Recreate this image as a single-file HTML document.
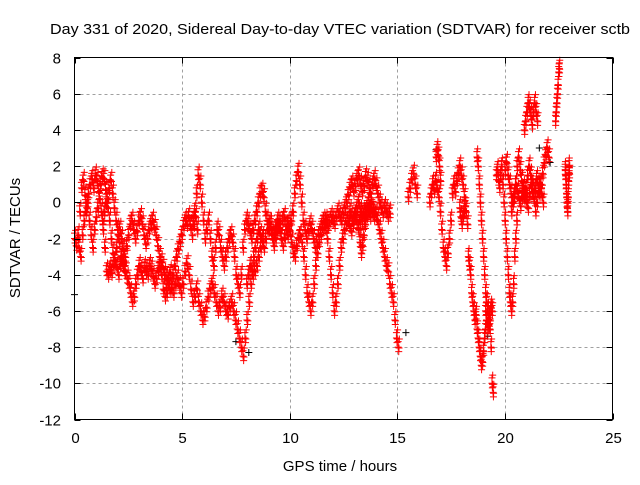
<!DOCTYPE html>
<html><head><meta charset="utf-8"><style>
body{margin:0;background:#fff}
svg text{font-family:"Liberation Sans",sans-serif;font-size:15px;fill:#000}
</style></head><body>
<svg id="chart" width="640" height="480" viewBox="0 0 640 480" xmlns="http://www.w3.org/2000/svg">
<rect width="640" height="480" fill="#fff"/>
<text x="340" y="34" text-anchor="middle" textLength="580" lengthAdjust="spacingAndGlyphs">Day 331 of 2020, Sidereal Day-to-day VTEC variation (SDTVAR) for receiver sctb</text>
<g id="grid"></g>
<g id="marks"></g>
<rect x="74.5" y="57.5" width="538" height="362" fill="none" stroke="#000" stroke-width="1"/>
<g id="ticks"></g>
<text x="340" y="471" text-anchor="middle">GPS time / hours</text>
<text x="20" y="238" text-anchor="middle" transform="rotate(-90 20 238)">SDTVAR / TECUs</text>
</svg>
<script>
const xTicks=[0,5,10,15,20,25];
const yTicks=[8,6,4,2,0,-2,-4,-6,-8,-10,-12];
// tracks: start time, step (hours), values (TECU)
const trackStarts=[0,0.2,1.3,4.5,5.5,8.0,12.0,12.8,15.5,16.5,16.8,18.3,18.7,19.1,19.6,20.0,20.3,20.9,22.35,22.8,13.2,17.9];
const trackSteps=[0.08,0.08,0.08,0.09,0.08,0.08,0.08,0.08,0.08,0.07,0.05,0.05,0.05,0.05,0.05,0.07,0.07,0.06,0.03,0.02,0.06,0.05];
const trackValues=[
[-2,-2.4,-1.8,-0.5,0.8,1.2,0.4,-0.3,0.5,1.0,1.3,0.8,1.5,1.2,0.6,1.0,1.4,1.3,0.7,0.2,0.8,1.2,0.5,-0.3,-1.0,-1.5,-2.2,-3.0,-3.5,-3.8],
[-2.5,-3,-1.8,-1,-0.5,0,-1,-1.8,-2.5,-1.5,-0.8,-0.3,0.2,-0.5,-1.5,-2.5,-3.8,-4,-3.7,-3.9,-3.5,-3.2,-3.6,-4,-3.4,-3.0,-3.3,-3.8,-4.2,-4.5,-5,-5.5,-5.2,-4.5,-4,-3.5,-3.8,-4.2,-3.6,-3.8,-4.0,-3.5,-3.7,-4.1,-4.5,-4.2,-3.8,-3.6,-4.0,-4.8,-5.2,-5.0,-4.3,-3.9],
[-1,-0.5,0,-0.3,-1,-2,-2.8,-3.2,-2.5,-1.8,-1.5,-2,-2.6,-3,-2.4,-1.8,-1.2,-1,-1.5,-2,-1.6,-1.0,-0.8,-1.2,-1.8,-2.3,-2,-1.5,-1.2,-1.0,-1.4,-1.8,-2.4,-3,-3.3,-3.6,-4,-4.2,-4.5,-4.8,-4.5,-4.0,-3.5,-3.0,-2.6,-2.2,-1.8,-1.3,-1.0,-1.2,-0.8,-1.3,-1.8,-1.2,-0.8,-1.5],
[-4.8,-5.0,-4.5,-4.2,-4.6,-5.0,-4.5,-3.8,-3.4,-4.0,-4.8,-5.5,-5.2,-4.8,-5.5,-6,-6.5,-6.3,-5.8,-5.2,-4.8,-4.5,-5.0,-5.5,-6.0,-5.8,-5.2,-5.5,-6.0,-6.2,-5.8,-5.5,-6.0,-6.5,-7.0,-7.5,-8.0,-8.5,-7.5,-6.5,-5.5,-4.5,-4.0,-3.8,-3.5,-3.0,-2.5,-2.0],
[-1,-0.5,0.5,1.5,1.0,0,-1,-2,-1.5,-1.0,-2.0,-3,-3.5,-2.5,-1.5,-1.8,-2.5,-3,-3.5,-3.0,-2.5,-2.0,-1.8,-2.2,-3,-4,-4.5,-5,-4,-2.5,-1.5,-1.0,-1.2,-1.6,-2.0,-1.5,-1.0,-0.5,0.0,0.5,0.6,0.3,-0.5,-1.0,-1.5,-1.2,-1.8,-2.4,-2.0,-1.6,-1.2,-1.5,-1.0,-0.8,-1.3,-1.8,-1.5,-1.0,-0.5,0.5,1.2,1.7,1.0,0,-1,-1.5,-2,-1.6,-1.2,-1.5,-2.0,-2.5,-2.2,-1.8,-1.5,-1.2,-1.0,-1.4,-2,-3,-4,-5,-6,-5.5,-4.5,-3.5,-2.5,-2.0,-1.5,-1.2,-1.0,-1.3,-1.6,-1.2,-0.8,-1.0,-1.4,-1.0,-0.8,-0.6,-1.0,-0.7,-0.5,-0.8,-0.4,-0.6],
[-4.5,-4,-3.5,-3.8,-3,-2.5,-2,-1.5,-1.8,-2.2,-2.5,-2.0,-1.5,-1.2,-1.5,-2.0,-1.8,-1.4,-1.0,-1.5,-2.0,-2.4,-2.0,-1.5,-1.2,-1.6,-2.2,-2.8,-3.0,-2.4,-2.0,-1.8,-2.2,-3.0,-4.0,-5.0,-5.5,-6.0,-5.5,-4.5,-3.5,-2.8,-2.2,-1.8,-1.5,-1.2,-1.0,-1.3,-1.1,-0.8],
[-1.0,-1.2,-0.8,-0.5,-0.8,-1.0,-0.6,-0.3,0.0,0.4,0.8,1.0,0.6,0.9,1.3,1.5,1.0,0.6,0.9,1.4,1.2,0.8,0.5,1.0,1.3,0.9,0.5,0.0,-0.3,-0.6,-0.3,-0.5,-0.8,-0.6],
[-0.5,-0.8,-1.0,-0.6,-0.3,0.0,-0.5,-1.0,-0.8,-0.5,-0.2,0.0,-0.3,-0.6,-0.8,-0.7,-1.0,-1.5,-2.0,-2.5,-3.0,-3.5,-3.8,-4.5,-5.0,-5.5,-6.5,-7.5,-8.0],
[0.3,0.8,1.3,1.6,1.0,0.5],
[0.0,0.5,1.0,0.7,1.2,0.8,0.3,-0.5,-1.5,-2.5,-3.0,-3.5,-2.8,-2.0,-1.0,0.5,1.0,0.6,1.2,1.6,2.0,1.5,1.0,0.3,-0.5,-1.2],
[2.5,2.9,2.6,2.0,1.2],
[-3,-3.5,-4,-5,-5.5,-6,-6.5,-6.2,-7,-7.5,-8,-8.5,-9,-8.8,-8.2,-7.5,-7.0,-6.5,-6.0],
[2.5,2.0,1.0,0,-1,-2,-3,-4,-5,-5.5,-6,-6.5,-7,-8,-10,-10.5],
[-6,-6.5,-7,-6.8,-6.2,-5.8,-6.0],
[1.5,1.8,1.2,0.8,1.5,2.0,1.0,0,-1,-2,-3,-4,-5,-5.5,-6,-5.5,-4.5,-3,-2,-1],
[1.8,2.2,1.5,1.0,0.5,0.0,0.3,1.0,2.0,2.5,1.8,1.2,0.6,0.2,0.8,1.5,2.0,1.5,0.8,0.3,0.8,1.3,1.0,0.5,1.0,1.6,2.2,2.6,3.0,2.5],
[-0.5,0,0.5,1.0,0.6,0.2,-0.2,0.3,0.8,0.4,0,-0.3,0.5,1.0,0.6,0.2,-0.5,0,0.6,1.0,0.5,0.0],
[4.0,4.5,5.0,5.5,5.2,4.8,4.3,5.0,5.5,5.0,4.5],
[4.5,5,5.5,6,6.5,7.2,7.4],
[1.8,1.5,1.0,0.5,0,-0.3,-0.5,0.3,1.2,2.0,1.6],
[-1.5,-2.2,-2.8,-2.4,-1.8,-1.2],
[-0.3,-0.8,-1.2,-0.8,-0.5,-0.2]
];
const blackTimes=[0.0,7.5,8.1,15.4,16.8,19.2,21.6,22.1];
const blackValues=[-5.1,-7.7,-8.3,-7.2,2.9,-7.4,3.0,2.2];

const X0=74.5,X1=612.5,Y0=57.5,Y1=419.5;
const xs=t=>X0+(t-0)/(25-0)*(X1-X0);
const ys=v=>Y1-(v-(-12))/(8-(-12))*(Y1-Y0);
const NS='http://www.w3.org/2000/svg';
const grid=document.getElementById('grid'),ticks=document.getElementById('ticks'),marks=document.getElementById('marks');
function mk(tag,attrs,parent){const e=document.createElementNS(NS,tag);for(const k in attrs)e.setAttribute(k,attrs[k]);parent.appendChild(e);return e;}
xTicks.forEach(t=>{
  const x=Math.round(xs(t))+0.5;
  if(t>0&&t<25){const g=mk('line',{x1:x,x2:x,y1:Y0,y2:Y1,stroke:'#a0a0a0','stroke-dasharray':'3,3'},grid);
  
  }
  const tk=mk('path',{d:`M${x} ${Y1}v-6M${x} ${Y0}v6`,stroke:'#000'},ticks);
  
  
  const l=mk('text',{x:x,y:443,'text-anchor':'middle'},ticks);l.textContent=t;
  
  
});
yTicks.forEach(v=>{
  const y=Math.round(ys(v))+0.5;
  if(v<8&&v>-12){const g=mk('line',{x1:X0,x2:X1,y1:y,y2:y,stroke:'#a0a0a0','stroke-dasharray':'3,3'},grid);
  
  }
  const tk=mk('path',{d:`M${X0} ${y}h6M${X1} ${y}h-6`,stroke:'#000'},ticks);
  
  
  const l=mk('text',{x:61,y:y+5,'text-anchor':'end'},ticks);l.textContent=v;
  
  
});
function plus(t,v,col,name){
  const x=xs(t),y=ys(v);
  const p=mk('path',{d:`M${x-3.5} ${y}h7M${x} ${y-3.5}v7`,stroke:col,'stroke-width':1},marks);
  
  
}
blackValues.forEach((v,i)=>plus(blackTimes[i],v,'#000','point-black'));
trackValues.forEach((vals,k)=>{
  vals.forEach((v,i)=>{
    const t=trackStarts[k]+i*trackSteps[k];
    const d=trackSteps[k];
    plus(t,v,'#ff0000','point-red');
    plus(t,v+0.3,'#ff0000','point-red');
    plus(t+d/3,v-0.25,'#ff0000','point-red');
    plus(t+2*d/3,v+0.45,'#ff0000','point-red');
    plus(t+d/2,v-0.05,'#ff0000','point-red');
  });
});
</script>
</body></html>
